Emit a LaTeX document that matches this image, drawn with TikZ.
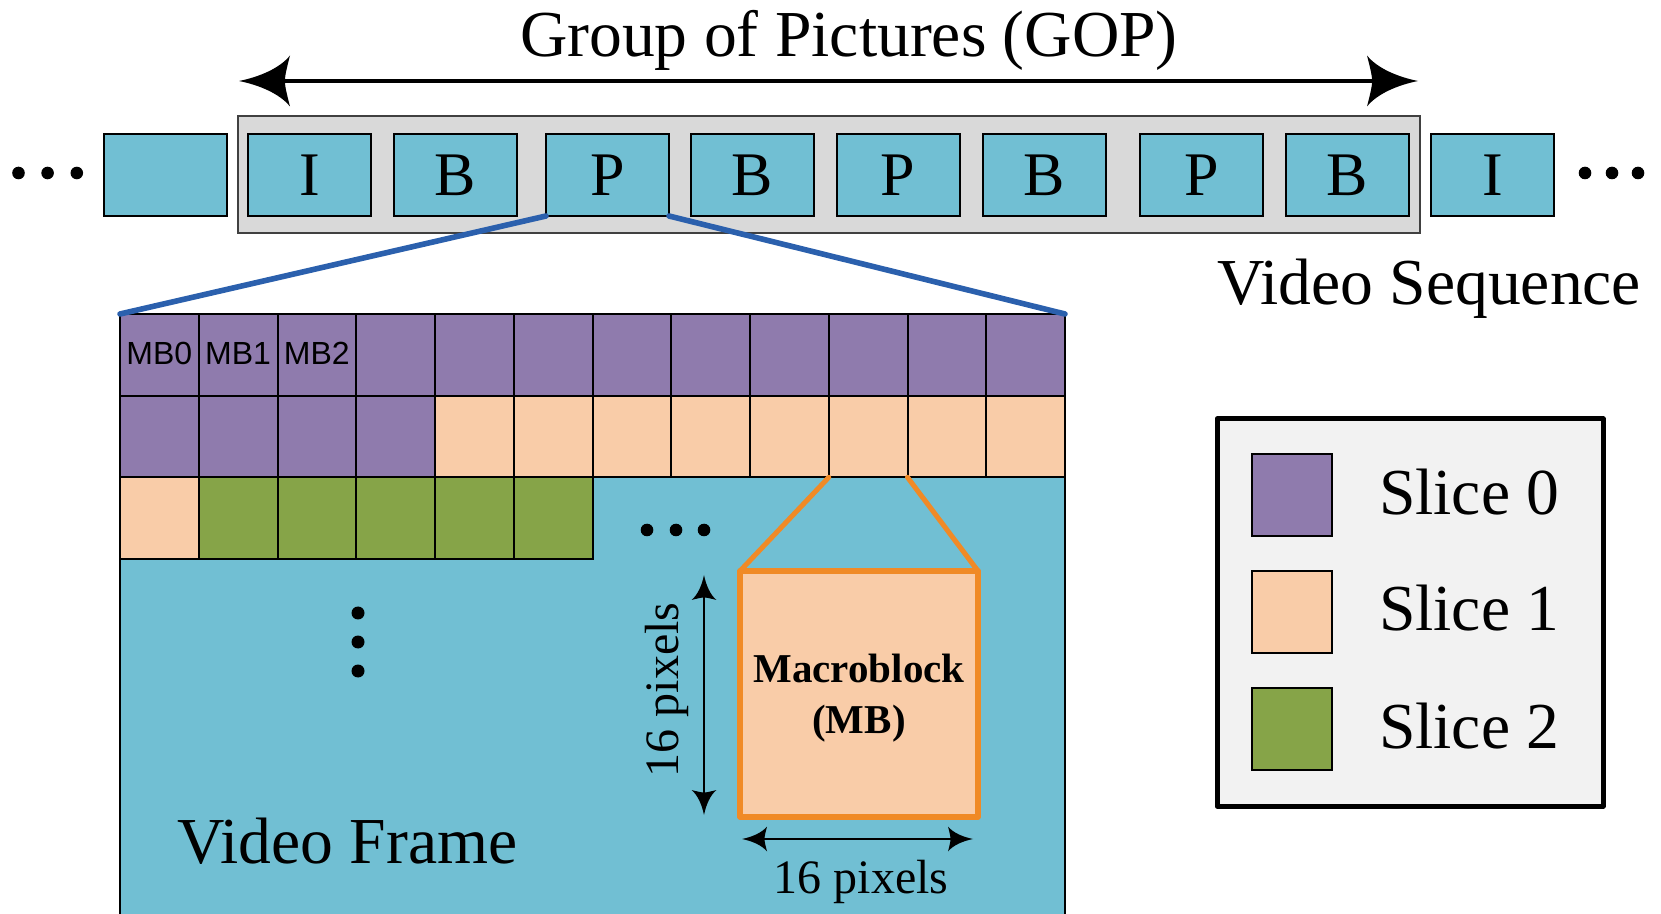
\documentclass[tikz,border=0pt]{standalone}
\usepackage{fontspec}
\setmainfont{Liberation Serif}
\newfontfamily\labelsans{Liberation Sans}
\usetikzlibrary{arrows.meta}

\definecolor{sliceA}{HTML}{8F7BAD}
\definecolor{sliceB}{HTML}{F9CCA8}
\definecolor{sliceC}{HTML}{86A448}
\definecolor{framecyan}{HTML}{71BFD3}
\definecolor{gopgray}{HTML}{D9D9D9}
\definecolor{legendbg}{HTML}{F2F2F2}
\definecolor{zoomblue}{HTML}{2B60AD}
\definecolor{zoomorange}{HTML}{F08A26}

% arrow head with concave, swept-back flanks
\pgfdeclarearrow{
  name = Swept,
  parameters = {\the\pgfarrowlength,\the\pgfarrowwidth},
  setup code = {
    \pgfarrowssettipend{\pgfarrowlength}
    \pgfarrowssetlineend{0.2\pgfarrowlength}
    \pgfarrowssavethe\pgfarrowlength
    \pgfarrowssavethe\pgfarrowwidth
    \pgfarrowshullpoint{\pgfarrowlength}{0pt}
    \pgfarrowsupperhullpoint{0pt}{0.5\pgfarrowwidth}
  },
  drawing code = {
    \pgfpathmoveto{\pgfqpoint{\pgfarrowlength}{0pt}}
    \pgfpathcurveto{\pgfqpoint{0.6\pgfarrowlength}{0.08\pgfarrowwidth}}{\pgfqpoint{0.2\pgfarrowlength}{0.25\pgfarrowwidth}}{\pgfqpoint{0pt}{0.5\pgfarrowwidth}}
    \pgfpathcurveto{\pgfqpoint{0.05\pgfarrowlength}{0.3\pgfarrowwidth}}{\pgfqpoint{0.1\pgfarrowlength}{0.12\pgfarrowwidth}}{\pgfqpoint{0.1\pgfarrowlength}{0pt}}
    \pgfpathcurveto{\pgfqpoint{0.1\pgfarrowlength}{-0.12\pgfarrowwidth}}{\pgfqpoint{0.05\pgfarrowlength}{-0.3\pgfarrowwidth}}{\pgfqpoint{0pt}{-0.5\pgfarrowwidth}}
    \pgfpathcurveto{\pgfqpoint{0.2\pgfarrowlength}{-0.25\pgfarrowwidth}}{\pgfqpoint{0.6\pgfarrowlength}{-0.08\pgfarrowwidth}}{\pgfqpoint{\pgfarrowlength}{0pt}}
    \pgfpathclose
    \pgfusepathqfill
  },
  defaults = {length = 10pt, width = 10pt}
}

\newcommand\bigserif{\fontsize{32.8}{39}\selectfont}

\begin{document}
\begin{tikzpicture}[x=0.5pt,y=-0.5pt,
  every node/.style={inner sep=0pt, outer sep=0pt},
  frameblk/.style={draw=black, line width=1pt, fill=framecyan,
    minimum width=61.5pt, minimum height=41pt, font=\fontsize{31}{36}\selectfont},
  mbcell/.style={draw=black, line width=1pt, minimum width=39.375pt, minimum height=40.83pt},
  mblabel/.style={anchor=base, font=\labelsans\fontsize{16}{19}\selectfont},
  swatch/.style={draw=black, line width=1pt, minimum width=40pt, minimum height=41pt},
  bigtext/.style={font=\bigserif},
  gopline/.style={line width=2pt, {Swept[length=25.5pt,width=25.5pt]}-{Swept[length=25.5pt,width=25.5pt]}},
  dimline/.style={line width=1pt, {Swept[length=12.5pt,width=12.5pt]}-{Swept[length=12.5pt,width=12.5pt]}},
  zoomline/.style={draw=zoomblue, line width=2.8pt, line cap=round},
  mbline/.style={draw=zoomorange, line width=2.5pt, line cap=round},
  mbbox/.style={draw=zoomorange, line width=2.8pt, fill=sliceB, line join=round,
    minimum width=119pt, minimum height=123pt},
  mbtext/.style={align=center, font=\bfseries\fontsize{20.5}{25.5}\selectfont},
  dimtext/.style={font=\fontsize{24}{28}\selectfont}
]
\useasboundingbox (0,0) rectangle (1661,914);

% ---------- video sequence ----------
\draw[fill=gopgray, draw=black!75, line width=0.8pt] (238,116) rectangle (1420,233);
\foreach \i/\x/\t in {0/165/{},1/309.5/I,2/455/B,3/607.5/P,4/752.5/B,5/898/P,6/1044.5/B,7/1201.5/P,8/1347.5/B,9/1492.5/I}
  \node[frameblk] (f\i) at (\x,175) {\t};
\foreach \x in {18.5,47.6,76.8,1585,1612,1638}
  \fill (\x,173) circle[radius=6.3];

\node[bigtext, anchor=base] (title) at (849,57) {Group of Pictures (GOP)};
\coordinate (gopL) at (239,81);
\coordinate (gopR) at (1418,81);
\draw[gopline] (gopL) -- (gopR);
\node[bigtext, anchor=base west] (seq) at (1217,305) {Video Sequence};

% ---------- video frame ----------
\fill[framecyan] (120,314) rectangle (1065,914);
\draw[line width=1pt] (120,914) -- (120,314) -- (1065,314) -- (1065,914);

\foreach \c in {0,...,11}
  \node[mbcell, fill=sliceA] (c-0-\c) at ({120+78.75*(\c+0.5)},{314+81.67*0.5}) {};
\foreach \c in {0,...,3}
  \node[mbcell, fill=sliceA] (c-1-\c) at ({120+78.75*(\c+0.5)},{314+81.67*1.5}) {};
\foreach \c in {4,...,11}
  \node[mbcell, fill=sliceB] (c-1-\c) at ({120+78.75*(\c+0.5)},{314+81.67*1.5}) {};
\node[mbcell, fill=sliceB] (c-2-0) at ({120+78.75*0.5},{314+81.67*2.5}) {};
\foreach \c in {1,...,5}
  \node[mbcell, fill=sliceC] (c-2-\c) at ({120+78.75*(\c+0.5)},{314+81.67*2.5}) {};

\node[mblabel] at ([yshift=-5pt]c-0-0.center) {MB0};
\node[mblabel] at ([yshift=-5pt]c-0-1.center) {MB1};
\node[mblabel] at ([yshift=-5pt]c-0-2.center) {MB2};

\coordinate (gtl) at (120,314);
\coordinate (gtr) at (1065,314);
\draw[zoomline] (f3.south west) -- (gtl);
\draw[zoomline] (f3.south east) -- (gtr);

\foreach \x in {647,676,704}
  \fill (\x,530) circle[radius=6.3];
\foreach \y in {613,642,671}
  \fill (358,\y) circle[radius=6.5];

\node[bigtext, anchor=base west] (vf) at (177,863) {Video Frame};

% ---------- macroblock ----------
\node[mbbox] (mb) at (859,694) {};
\node[mbtext] (mbt) at ([yshift=-2.3pt]mb.center) {Macroblock\\(MB)};
\draw[mbline] (c-1-9.south west) -- (mb.north west);
\draw[mbline] (c-1-9.south east) -- (mb.north east);

\coordinate (v1) at (704,575);
\coordinate (v2) at (704,815);
\draw[dimline] (v1) -- (v2);
\node[dimtext, rotate=90, anchor=base] (vlab) at (678,690) {16 pixels};
\coordinate (h1) at (742,839);
\coordinate (h2) at (973,839);
\draw[dimline] (h1) -- (h2);
\node[dimtext, anchor=base] (hlab) at (861,893) {16 pixels};

% ---------- legend ----------
\node[draw=black, line width=2.5pt, fill=legendbg, line join=round,
  minimum width=193pt, minimum height=193.5pt] (legend) at (1410,612.5) {};
\node[swatch, fill=sliceA] (s0) at (1292,495) {};
\node[swatch, fill=sliceB] (s1) at (1292,612) {};
\node[swatch, fill=sliceC] (s2) at (1292,728.5) {};
\node[bigtext, anchor=base west] (l0) at (1379,515) {Slice 0};
\node[bigtext, anchor=base west] (l1) at (1379,631) {Slice 1};
\node[bigtext, anchor=base west] (l2) at (1379,748) {Slice 2};
\end{tikzpicture}
\end{document}
